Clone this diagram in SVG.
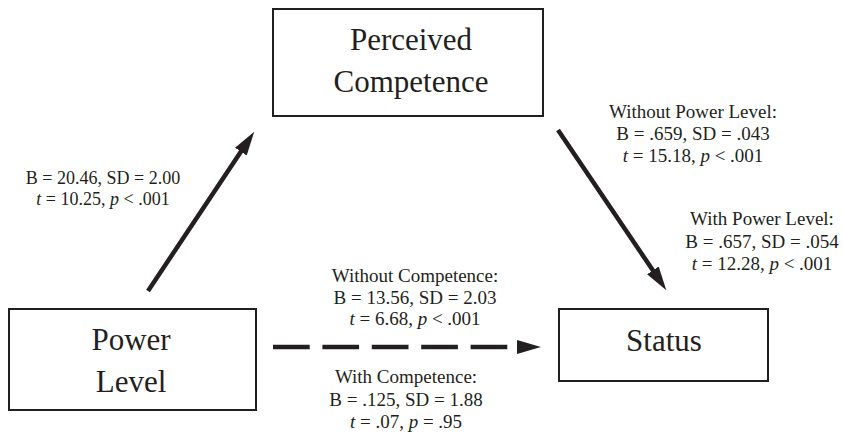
<svg xmlns="http://www.w3.org/2000/svg" width="843" height="437" viewBox="0 0 843 437">
<style>
.box{fill:#fff;stroke:#231f20;stroke-width:2}
.nt{font-family:"Liberation Serif","Times New Roman",serif;font-size:31px;fill:#231f20;text-anchor:middle}
.lb{font-family:"Liberation Serif","Times New Roman",serif;font-size:19px;fill:#231f20;text-anchor:middle}
.sm{font-size:18px}
.i{font-style:italic}
.ar{stroke:#231f20;stroke-width:4.5;fill:none}
</style>
<defs>
<marker id="ah" markerUnits="userSpaceOnUse" markerWidth="24" markerHeight="16" refX="2" refY="8" orient="auto">
<path d="M0,1 L24,8 L0,15 Z" fill="#231f20"/>
</marker>
</defs>
<rect width="843" height="437" fill="#fff"/>
<g id="node-competence">
<rect class="box" x="273" y="9" width="270" height="107"/>
<text class="nt" x="411" y="50">Perceived</text>
<text class="nt" x="411" y="92">Competence</text>
</g>
<g id="node-power">
<rect class="box" x="9" y="309" width="247" height="101"/>
<text class="nt" x="131" y="350">Power</text>
<text class="nt" x="131" y="392">Level</text>
</g>
<g id="node-status">
<rect class="box" x="559" y="309" width="209" height="72"/>
<text class="nt" x="664" y="351">Status</text>
</g>
<g id="connectors">
<line class="ar" x1="148" y1="291" x2="242" y2="150" marker-end="url(#ah)"/>
<line class="ar" x1="558" y1="130" x2="654" y2="272" marker-end="url(#ah)"/>
<line class="ar" x1="273" y1="347" x2="519" y2="347" stroke-dasharray="36.7 12.7" marker-end="url(#ah)"/>
</g>
<g id="labels">
<text class="lb sm" x="103" y="184">B = 20.46, SD = 2.00</text>
<text class="lb sm" x="103" y="205"><tspan class="i">t</tspan> = 10.25, <tspan class="i">p</tspan> &lt; .001</text>
<text class="lb" x="693" y="117.5">Without Power Level:</text>
<text class="lb" x="693" y="140">B = .659, SD = .043</text>
<text class="lb" x="693" y="162"><tspan class="i">t</tspan> = 15.18, <tspan class="i">p</tspan> &lt; .001</text>
<text class="lb" x="762" y="225">With Power Level:</text>
<text class="lb" x="762" y="248">B = .657, SD = .054</text>
<text class="lb" x="762" y="270"><tspan class="i">t</tspan> = 12.28, <tspan class="i">p</tspan> &lt; .001</text>
<text class="lb" x="415" y="282">Without Competence:</text>
<text class="lb" x="415" y="304">B = 13.56, SD = 2.03</text>
<text class="lb" x="415" y="325"><tspan class="i">t</tspan> = 6.68, <tspan class="i">p</tspan> &lt; .001</text>
<text class="lb" x="406" y="383">With Competence:</text>
<text class="lb" x="406" y="406">B = .125, SD = 1.88</text>
<text class="lb" x="406" y="428"><tspan class="i">t</tspan> = .07, <tspan class="i">p</tspan> = .95</text>
</g>
</svg>
